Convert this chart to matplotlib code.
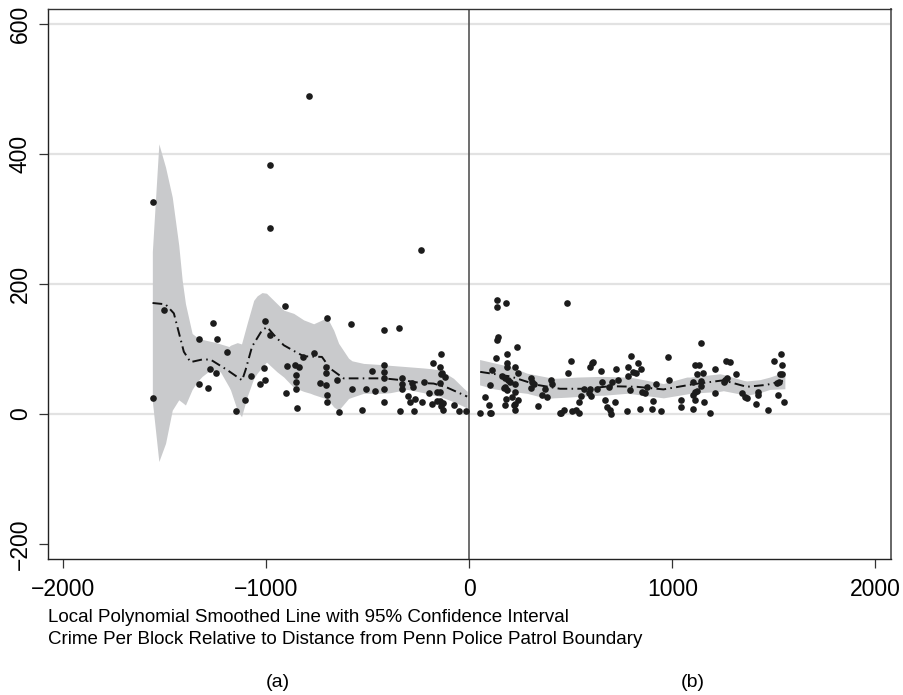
# Crime per block vs distance from Penn police patrol boundary
import matplotlib.pyplot as plt
import numpy as np

plt.rcParams['font.family'] = ['Liberation Sans', 'DejaVu Sans']

# scatter points, west side of the boundary (distance < 0)
left_x = [-1559, -1559, -1503, -1329, -1328, -1284, -1274, -1262, -1247, -1244,
          -1192, -1147, -1105, -1072, -1029, -1010, -1005, -1003, -982, -982,
          -982, -906, -903, -895, -859, -853, -853, -853, -846, -837,
          -818, -790, -766, -733, -703, -703, -703, -700, -700, -700,
          -651, -641, -580, -575, -528, -510, -479, -464, -421, -421,
          -421, -421, -421, -421, -344, -343, -331, -331, -331, -302,
          -290, -280, -277, -266, -270, -236, -225, -233, -198, -182,
          -179, -141, -143, -140, -136, -120, -143, -143, -160, -159,
          -143, -130, -130, -140, -77, -52, -18]
left_y = [326, 25, 160, 116, 46, 40, 70, 140, 64, 115,
          96, 5, 21, 59, 46, 71, 53, 144, 383, 286,
          121, 167, 32, 74, 75, 60, 50, 38, 9, 73,
          88, 490, 94, 48, 72, 64, 45, 29, 19, 148,
          53, 3, 139, 39, 6, 39, 67, 35, 129, 75,
          65, 55, 38, 19, 132, 5, 56, 46, 38, 28,
          19, 48, 42, 24, 5, 253, 50, 19, 32, 15,
          79, 92, 72, 62, 63, 57, 48, 34, 34, 20,
          20, 17, 7, 12, 14, 4, 4]

# scatter points, east side of the boundary (distance > 0)
right_x = [54, 79, 98, 103, 103, 111, 133, 136, 136, 136,
           141, 161, 174, 174, 177, 180, 180, 185, 185, 185,
           185, 193, 202, 210, 218, 223, 223, 226, 226, 226,
           236, 239, 239, 172, 107, 305, 308, 321, 305, 341,
           357, 374, 384, 403, 406, 447, 452, 466, 483, 488,
           502, 508, 525, 538, 541, 551, 567, 590, 595, 595,
           600, 603, 611, 628, 649, 656, 669, 677, 693, 697,
           688, 702, 718, 721, 731, 775, 780, 784, 792, 797,
           808, 830, 844, 821, 849, 866, 874, 900, 841, 903,
           920, 943, 980, 983, 1043, 1043, 1100, 1111, 1133, 1120,
           1152, 1103, 1140, 1141, 1111, 1120, 1103, 1111, 1141, 1156,
           1185, 1210, 1211, 1264, 1283, 1259, 1270, 1254, 1313, 1341,
           1357, 1366, 1423, 1423, 1411, 1469, 1500, 1533, 1538, 1529,
           1538, 1526, 1513, 1521, 1549]
right_y = [1, 26, 14, 45, 2, 68, 86, 176, 165, 114,
           118, 59, 55, 14, 41, 171, 24, 92, 78, 73,
           37, 53, 50, 27, 14, 34, 15, 73, 47, 7,
           104, 63, 22, 40, 1, 55, 50, 46, 40, 12,
           29, 38, 26, 52, 47, 1, 2, 7, 171, 63,
           82, 4, 7, 2, 19, 28, 38, 33, 38, 73,
           28, 79, 80, 39, 66, 50, 22, 11, 7, 0,
           42, 50, 19, 69, 52, 4, 58, 72, 37, 89,
           65, 78, 69, 64, 34, 32, 41, 8, 8, 20,
           46, 4, 88, 53, 22, 11, 8, 75, 76, 62,
           64, 50, 51, 43, 34, 35, 29, 22, 110, 19,
           1, 69, 32, 81, 80, 53, 56, 50, 61, 33,
           27, 25, 34, 29, 15, 6, 82, 92, 76, 61,
           62, 50, 48, 30, 19]

# local polynomial fit and 95% CI, west side
lfit_x = [-1559, -1495, -1454, -1405, -1372, -1315, -1274, -1192, -1118, -1101,
          -1069, -1020, -995, -962, -913, -856, -815, -725, -684, -618,
          -520, -421, -323, -241, -175, -110, -10]
lfit_y = [171, 169, 155, 96, 80, 84, 84, 68, 52, 68,
          104, 129, 134, 122, 106, 96, 89, 88, 70, 55,
          55, 55, 52, 48, 47, 41, 27]
lband_x = [-1560, -1528, -1495, -1462, -1430, -1413, -1397, -1364, -1339, -1315,
           -1274, -1257, -1225, -1183, -1175, -1142, -1121, -1093, -1061, -1044,
           -1020, -998, -946, -913, -864, -815, -782, -766, -717, -700,
           -667, -643, -594, -577, -520, -421, -388, -306, -225, -192,
           -143, -77, -28, -10]
lband_hi = [250, 416, 380, 334, 260, 206, 170, 124, 118, 115,
            112, 111, 108, 104, 106, 110, 108, 140, 175, 182,
            187, 186, 170, 160, 155, 145, 141, 139, 146, 149,
            129, 109, 86, 82, 78, 76, 75, 73, 71, 70,
            68, 55, 40, 35]
lband_lo = [20, -73, -45, 6, 22, 18, 14, 38, 50, 58,
            68, 67, 65, 42, 37, 6, -4, 27, 55, 63,
            72, 80, 65, 57, 41, 35, 32, 30, 25, 24,
            11, 6, 24, 26, 32, 32, 33, 38, 33, 30,
            27, 19, 12, 9]

# local polynomial fit and 95% CI, east side
rfit_x = [54, 202, 333, 447, 579, 693, 825, 956, 1103, 1251, 1366, 1464, 1554]
rfit_y = [65, 58, 45, 39, 39, 43, 42, 38, 46, 52, 42, 45, 52]
rband_x = [51, 120, 202, 284, 382, 415, 480, 530, 644, 661,
           776, 808, 956, 1071, 1087, 1234, 1251, 1349, 1366, 1431,
           1480, 1554]
rband_hi = [84, 79, 73, 63, 57, 55, 56, 57, 58, 58,
            57, 56, 47, 57, 57, 62, 61, 52, 51, 53,
            57, 65]
rband_lo = [45, 39, 35, 32, 24, 25, 26, 27, 29, 29,
            32, 31, 25, 31, 32, 35, 36, 30, 29, 33,
            38, 39]

xticks = [-2000, -1000, 0, 1000, 2000]
yticks = [-200, 0, 200, 400, 600]

fig = plt.figure(figsize=(9.04, 6.95), dpi=100)
ax = fig.add_axes([0.0528, 0.1957, 0.9325, 0.7909])

band_col = '#c9cacc'
dot_col = '#1c1c1c'
dashes = (0, (5, 2.2, 0.8, 2.2))

for g in [0, 200, 400, 600]:
    ax.axhline(g, color='#e2e2e2', lw=1.6, zorder=0)

ax.fill_between(lband_x, lband_lo, lband_hi, color=band_col, lw=0, zorder=1)
ax.fill_between(rband_x, rband_lo, rband_hi, color=band_col, lw=0, zorder=1)
ax.plot(lfit_x, lfit_y, color='#111111', lw=1.4, linestyle=dashes, zorder=2)
ax.plot(rfit_x, rfit_y, color='#111111', lw=1.4, linestyle=dashes, zorder=2)
ax.scatter(left_x, left_y, s=23, color=dot_col, lw=0, zorder=3)
ax.scatter(right_x, right_y, s=23, color=dot_col, lw=0, zorder=3)
ax.axvline(0, color='#555555', lw=1.2, zorder=2)

ax.set_xlim(-2075, 2075)
ax.set_ylim(-223, 623)
ax.set_xticks(xticks)
ax.set_yticks(yticks)
ax.set_xticklabels(['\u22122000', '\u22121000', '0', '1000', '2000'])
ax.set_yticklabels(['\u2212200', '0', '200', '400', '600'],
                   rotation=90, va='center')
ax.tick_params(axis='both', length=6.5, width=0.9, color='#333333',
               labelsize=16.5)
ax.tick_params(axis='x', pad=7)
ax.tick_params(axis='y', pad=5)

ax.spines['left'].set_color('#222222')
ax.spines['bottom'].set_color('#222222')
ax.spines['top'].set_color('#333333')
ax.spines['right'].set_color('#666666')
for s in ['left', 'bottom', 'top']:
    ax.spines[s].set_linewidth(1.0)
ax.spines['right'].set_linewidth(1.4)

fig.text(0.053, 0.111, 'Local Polynomial Smoothed Line with 95% Confidence Interval',
         fontsize=13.5, va='center', ha='left')
fig.text(0.053, 0.080, 'Crime Per Block Relative to Distance from Penn Police Patrol Boundary',
         fontsize=13.5, va='center', ha='left')
fig.text(0.3075, 0.0175, '(a)', fontsize=14, va='center', ha='center')
fig.text(0.7665, 0.0175, '(b)', fontsize=14, va='center', ha='center')

fig.savefig('out.png', dpi=100)
